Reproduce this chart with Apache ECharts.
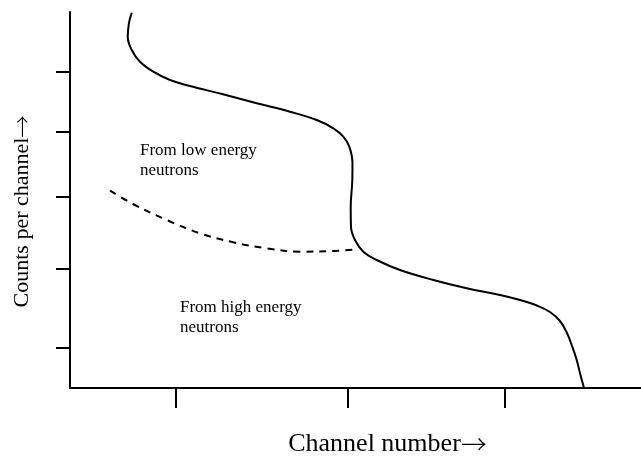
<!DOCTYPE html>
<html>
<head>
<meta charset="utf-8">
<script src="https://cdn.jsdelivr.net/npm/echarts@6/dist/echarts.min.js"></script>
<style>html,body{margin:0;padding:0;background:#fff}#c{width:641px;height:458px}</style>
</head>
<body>
<div id="c"></div>
<script>
// Total spectrum (solid) : [channel, counts]
const totalCurve = [
  [10.81, 99.8], [10.33, 97.07], [10.11, 93.43], [10.81, 89.89], [12.26, 86.78],
  [14.59, 84.12], [17.51, 81.91], [21.02, 80.32], [26.80, 78.11], [32.70, 75.72],
  [38.53, 73.48], [43.21, 71.28], [46.12, 69.07], [47.86, 66.84], [48.91, 64.18],
  [49.47, 59.84], [49.44, 55.32], [49.16, 48.22], [49.21, 42.90], [49.91, 39.36],
  [51.37, 36.25], [53.71, 34.04], [57.79, 31.38], [63.63, 28.72], [69.47, 26.52],
  [75.31, 24.73], [78.81, 23.40], [81.96, 21.81], [84.06, 20.21], [85.81, 17.82],
  [87.04, 14.63], [87.92, 11.17], [88.74, 7.45], [89.32, 3.91], [90.02, 0]
];
// Contribution from high energy neutrons (dashed)
const highEnergyCurve = [
  [7.01, 52.47], [11.03, 48.94], [16.94, 44.68], [22.77, 41.14], [28.60, 38.75],
  [34.45, 37.15], [40.28, 36.25], [46.11, 36.44], [50.49, 36.89]
];
const xTicks = [18.56, 48.69, 76.18];
const yTicks = [10.6, 31.6, 50.8, 68.1, 84.0];
const xTitle = 'Channel number';
const yTitle = 'Counts per channel';
const arrow = '→';
const lowLabel = 'From low energy\nneutrons';
const highLabel = 'From high energy\nneutrons';

const FONT = '"Liberation Serif", "Times New Roman", serif';
const ARROW_FONT = '"Noto Sans CJK JP", "DejaVu Sans", sans-serif';
const chart = echarts.init(document.getElementById('c'), null, {renderer: 'canvas'});
chart.setOption({
  backgroundColor: '#fff',
  animation: false,
  grid: {left: 70, top: 12, right: 0, bottom: 70, containLabel: false, outerBoundsMode: 'none'},
  xAxis: {
    type: 'value', min: 0, max: 100,
    name: '{t|' + xTitle + '}{a|' + arrow + '}', nameLocation: 'middle', nameGap: 43,
    nameTextStyle: {
      color: '#000', padding: [0, 0, 0, 64],
      rich: {
        t: {fontFamily: FONT, fontSize: 26, color: '#000'},
        a: {fontFamily: ARROW_FONT, fontSize: 26, color: '#000', fontWeight: 300}
      }
    },
    axisLine: {show: true, lineStyle: {color: '#000', width: 2}},
    axisTick: {show: true, customValues: xTicks, length: 20, inside: false, lineStyle: {color: '#000', width: 2}},
    axisLabel: {show: false},
    splitLine: {show: false}
  },
  yAxis: {
    type: 'value', min: 0, max: 100,
    name: '{t|' + yTitle + '}{a|' + arrow + '}', nameLocation: 'middle', nameGap: 37,
    nameTextStyle: {
      color: '#000', padding: [0, 23, 0, 0],
      rich: {
        t: {fontFamily: FONT, fontSize: 22, color: '#000'},
        a: {fontFamily: ARROW_FONT, fontSize: 22, color: '#000', fontWeight: 300}
      }
    },
    axisLine: {show: true, lineStyle: {color: '#000', width: 2}},
    axisTick: {show: true, customValues: yTicks, length: 14, inside: false, lineStyle: {color: '#000', width: 2}},
    axisLabel: {show: false},
    splitLine: {show: false}
  },
  series: [
    {type: 'line', data: totalCurve, smooth: 0.4, symbol: 'none',
     lineStyle: {color: '#000', width: 2}},
    {type: 'line', data: highEnergyCurve, smooth: 0.4, symbol: 'none',
     lineStyle: {color: '#000', width: 2, type: [7, 6]}}
  ],
  graphic: [
    {type: 'text', left: 140, top: 141,
     style: {text: lowLabel, font: '17px ' + FONT, fill: '#000', lineHeight: 20}},
    {type: 'text', left: 180, top: 298,
     style: {text: highLabel, font: '17px ' + FONT, fill: '#000', lineHeight: 20}}
  ]
});
</script>
</body>
</html>
